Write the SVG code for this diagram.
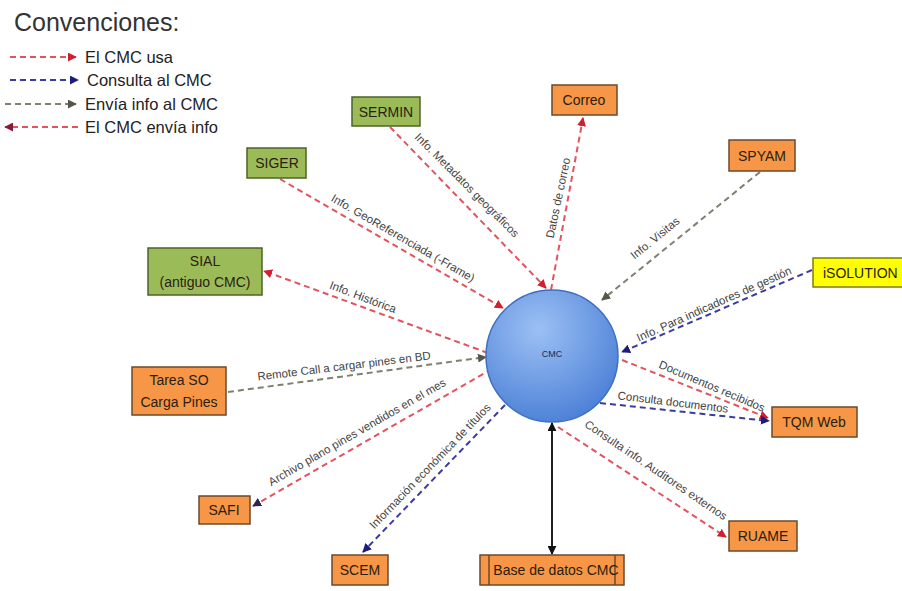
<svg xmlns="http://www.w3.org/2000/svg" width="902" height="591" viewBox="0 0 902 591">
<defs>
<style>
.t{font-family:"Liberation Sans",Arial,sans-serif;}
.leg{font-size:16.5px;fill:#222;}
.nt{font-size:14px;fill:#2a1e10;text-anchor:middle;dominant-baseline:central;}
.ns{font-size:14px;fill:#2a1e10;text-anchor:start;dominant-baseline:central;}
.lab{font-size:11.5px;fill:#444;text-anchor:middle;dominant-baseline:central;}
.org{fill:#f79646;stroke:#6b4a2a;stroke-width:1.5;}
.grn{fill:#9bbb59;stroke:#4f6228;stroke-width:1.5;}
.yel{fill:#ffff00;stroke:#7f7f00;stroke-width:1.5;}
.r{stroke:#e2535e;stroke-width:2;stroke-dasharray:6,4;fill:none;}
.b{stroke:#3c3ca0;stroke-width:2;stroke-dasharray:6,4;fill:none;}
.g{stroke:#808070;stroke-width:2;stroke-dasharray:6,4;fill:none;}
</style>
<marker id="aR" viewBox="0 0 10 10" refX="9" refY="5" markerWidth="9" markerHeight="9" markerUnits="userSpaceOnUse" orient="auto"><path d="M0,0 L10,5 L0,10 z" fill="#d01f2f"/></marker>
<marker id="aB" viewBox="0 0 10 10" refX="9" refY="5" markerWidth="9" markerHeight="9" markerUnits="userSpaceOnUse" orient="auto"><path d="M0,0 L10,5 L0,10 z" fill="#1c1c80"/></marker>
<marker id="aG" viewBox="0 0 10 10" refX="9" refY="5" markerWidth="9" markerHeight="9" markerUnits="userSpaceOnUse" orient="auto"><path d="M0,0 L10,5 L0,10 z" fill="#555548"/></marker>
<marker id="aD" viewBox="0 0 10 10" refX="9" refY="5" markerWidth="9" markerHeight="9" markerUnits="userSpaceOnUse" orient="auto"><path d="M0,0 L10,5 L0,10 z" fill="#2b2550"/></marker>
<marker id="aM" viewBox="0 0 10 10" refX="9" refY="5" markerWidth="9" markerHeight="9" markerUnits="userSpaceOnUse" orient="auto"><path d="M0,0 L10,5 L0,10 z" fill="#8b1a3a"/></marker>
<marker id="aK" viewBox="0 0 10 10" refX="9" refY="5" markerWidth="9" markerHeight="9" markerUnits="userSpaceOnUse" orient="auto-start-reverse"><path d="M0,0 L10,5 L0,10 z" fill="#111"/></marker>
<radialGradient id="cg" cx="40%" cy="30%" r="75%">
<stop offset="0" stop-color="#9cc0f4"/>
<stop offset="1" stop-color="#4a7fd6"/>
</radialGradient>
</defs>
<rect width="902" height="591" fill="#fff"/>

<g id="legend" class="t">
<text x="14" y="31" font-size="25" fill="#333">Convenciones:</text>
<line x1="10" y1="57" x2="76" y2="57" class="r" marker-end="url(#aR)"/>
<text x="85" y="63" class="leg">El CMC usa</text>
<line x1="10" y1="80" x2="78" y2="80" class="b" marker-end="url(#aB)"/>
<text x="87" y="86" class="leg">Consulta al CMC</text>
<line x1="5" y1="104" x2="76" y2="104" class="g" marker-end="url(#aG)"/>
<text x="85" y="110" class="leg">Envía info al CMC</text>
<line x1="78" y1="127" x2="5" y2="127" class="r" marker-end="url(#aM)"/>
<text x="85" y="133" class="leg">El CMC envía info</text>
</g>

<g id="connectors" class="t">
<line x1="390" y1="127" x2="546" y2="288" class="r" marker-end="url(#aR)"/>
<text class="lab" transform="translate(467,185) rotate(45)">Info. Metadatos geográficos</text>
<line x1="551" y1="290" x2="583" y2="118" class="r" marker-end="url(#aR)"/>
<text class="lab" transform="translate(558,198) rotate(-78)">Datos de correo</text>
<line x1="280" y1="179" x2="503" y2="308" class="r" marker-end="url(#aR)"/>
<text class="lab" transform="translate(403,238) rotate(30)">Info. GeoReferenciada (-Frame)</text>
<line x1="488" y1="353" x2="264" y2="271" class="r" marker-end="url(#aR)"/>
<text class="lab" transform="translate(363,297) rotate(21)">Info. Histórica</text>
<line x1="228" y1="392" x2="486" y2="357" class="g" marker-end="url(#aG)"/>
<text class="lab" transform="translate(344,366) rotate(-7)">Remote Call a cargar pines en BD</text>
<line x1="492" y1="369" x2="253" y2="506" class="r" marker-end="url(#aD)"/>
<text class="lab" transform="translate(357,432) rotate(-30)">Archivo plano pines vendidos en el mes</text>
<line x1="505" y1="405" x2="363" y2="552" class="b" marker-end="url(#aB)"/>
<text class="lab" transform="translate(430,466) rotate(-46)">Información económica de títulos</text>
<line x1="552" y1="423" x2="552" y2="554" stroke="#222" stroke-width="2" marker-start="url(#aK)" marker-end="url(#aK)"/>
<line x1="760" y1="172" x2="602" y2="300" class="g" marker-end="url(#aG)"/>
<text class="lab" transform="translate(655,238) rotate(-39)">Info. Visitas</text>
<line x1="812" y1="270" x2="622" y2="352" class="b" marker-end="url(#aB)"/>
<text class="lab" transform="translate(714,304) rotate(-24)">Info. Para indicadores de gestión</text>
<line x1="622" y1="360" x2="768" y2="418" class="r" marker-end="url(#aR)"/>
<text class="lab" transform="translate(712,386) rotate(23)">Documentos recibidos</text>
<line x1="600" y1="403" x2="769" y2="421" class="b" marker-end="url(#aB)"/>
<text class="lab" transform="translate(673,402) rotate(7)">Consulta documentos</text>
<line x1="558" y1="427" x2="726" y2="537" class="r" marker-end="url(#aR)"/>
<text class="lab" transform="translate(656,470) rotate(34)">Consulta info. Auditores externos</text>
</g>

<g id="CMC" class="t">
<circle cx="552" cy="356" r="66" fill="url(#cg)" stroke="#3f6fbf" stroke-width="1.5"/>
<text x="552" y="354" font-size="9" fill="#1a2a5a" text-anchor="middle" dominant-baseline="central">CMC</text>
</g>
<g id="SERMIN" class="t"><rect x="352" y="97" width="68" height="29" class="grn"/><text x="386" y="112" class="nt">SERMIN</text></g>
<g id="Correo" class="t"><rect x="552" y="85" width="65" height="30" class="org"/><text x="584" y="100" class="nt">Correo</text></g>
<g id="SIGER" class="t"><rect x="247" y="148" width="59" height="30" class="grn"/><text x="277" y="163" class="nt">SIGER</text></g>
<g id="SPYAM" class="t"><rect x="729" y="140" width="66" height="31" class="org"/><text x="762" y="156" class="nt">SPYAM</text></g>
<g id="SIAL" class="t"><rect x="148" y="248" width="114" height="47" class="grn"/><text x="205" y="261" class="nt">SIAL</text><text x="205" y="282" class="nt">(antiguo CMC)</text></g>
<g id="iSOLUTION" class="t"><rect x="813" y="258" width="100" height="29" class="yel"/><text x="823" y="273" class="ns">iSOLUTION</text></g>
<g id="TareaSO" class="t"><rect x="132" y="367" width="94" height="48" class="org"/><text x="179" y="380" class="nt">Tarea SO</text><text x="179" y="402" class="nt">Carga Pines</text></g>
<g id="TQMWeb" class="t"><rect x="772" y="407" width="85" height="30" class="org"/><text x="814" y="422" class="nt">TQM Web</text></g>
<g id="SAFI" class="t"><rect x="199" y="496" width="51" height="28" class="org"/><text x="224" y="510" class="nt">SAFI</text></g>
<g id="RUAME" class="t"><rect x="729" y="521" width="68" height="30" class="org"/><text x="763" y="536" class="nt">RUAME</text></g>
<g id="SCEM" class="t"><rect x="332" y="555" width="56" height="30" class="org"/><text x="360" y="570" class="nt">SCEM</text></g>
<g id="BaseDatos" class="t"><rect x="480" y="555" width="144" height="30" class="org"/><line x1="489" y1="555" x2="489" y2="585" stroke="#6b4a2a" stroke-width="1.5"/><line x1="615" y1="555" x2="615" y2="585" stroke="#6b4a2a" stroke-width="1.5"/><text x="556" y="570" class="nt">Base de datos CMC</text></g>
</svg>
